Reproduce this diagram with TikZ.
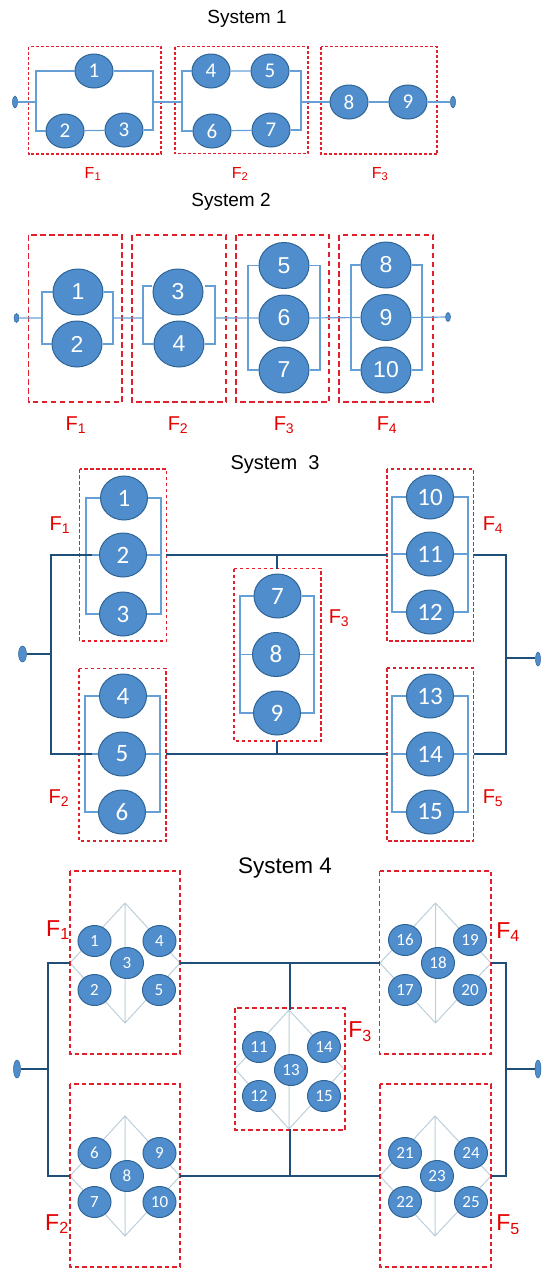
\documentclass[tikz,border=0pt]{standalone}
\usepackage{fontspec}
\setmainfont{Liberation Sans}
\newfontfamily\numfont{Carlito}
\usetikzlibrary{shapes.geometric}
\definecolor{nodefill}{HTML}{4F8DCC}
\definecolor{nodeedge}{HTML}{2F6596}
\definecolor{linelight}{HTML}{659FD6}
\definecolor{linedark}{HTML}{1F4E79}
\definecolor{diamondline}{HTML}{BCCFDB}
\definecolor{boxred}{HTML}{E2202C}
\tikzset{
  x=1pt,y=-1pt,
  blob/.style={ellipse,draw=nodeedge,line width=1pt,fill=nodefill,text=white,inner sep=0pt,font=\numfont},
  blobA/.style={blob,minimum width=38pt,minimum height=34pt,font=\numfont\fontsize{21}{21}\selectfont},
  blobB/.style={blob,minimum width=50pt,minimum height=46pt,font=\fontsize{23}{23}\selectfont},
  blobC/.style={blob,minimum width=47pt,minimum height=44pt,font=\numfont\fontsize{25}{25}\selectfont},
  blobD/.style={blob,minimum width=33pt,minimum height=31pt,font=\numfont\fontsize{17}{17}\selectfont},
  term/.style={ellipse,draw=nodeedge,line width=.5pt,fill=nodefill,inner sep=0pt},
  lite/.style={draw=linelight,line width=1.2pt},
  dark/.style={draw=linedark,line width=2pt},
  diam/.style={draw=diamondline,line width=1pt},
  boxA/.style={draw=boxred,line width=1.2pt,dash pattern=on 3pt off 2pt},
  boxB/.style={draw=boxred,line width=1.5pt,dash pattern=on 5.5pt off 3.5pt},
  boxC/.style={draw=boxred,line width=1.2pt,dash pattern=on 3.5pt off 2.5pt},
  boxD/.style={draw=boxred,line width=1.3pt,dash pattern=on 4.5pt off 3pt},
  ttl/.style={inner sep=0pt,text=black},
  flab/.style={inner sep=0pt,text=red!90!black},
}
\begin{document}
\begin{tikzpicture}
\useasboundingbox (0,0) rectangle (550,1280);
% ---------- System 1
\node[ttl,font=\fontsize{19}{19}\selectfont] (t1) at (247,19) {System 1};
\draw[boxA] (28.5,46.5) rectangle (161,154);
\draw[boxA] (175,46.5) rectangle (308,153.5);
\draw[boxA] (321,46.5) rectangle (437,154);
\node[blobA] (a1) at (94,71) {1};
\node[blobA] (a2) at (65,131) {2};
\node[blobA] (a3) at (124,130) {3};
\node[blobA] (a4) at (211,71) {4};
\node[blobA] (a5) at (270,71) {5};
\node[blobA] (a6) at (212,131) {6};
\node[blobA] (a7) at (271,130) {7};
\node[blobA] (a8) at (349,102) {8};
\node[blobA] (a9) at (408,102) {9};
\node[term,minimum width=5pt,minimum height=12pt] (at) at (15,102) {};
\node[term,minimum width=5pt,minimum height=12pt] (au) at (453,102) {};
\coordinate (aL) at (36,102);
\coordinate (aR) at (153,102);
\coordinate (bL) at (182,102);
\coordinate (bR) at (301,102);
\draw[lite] (at) -- (aL) (aR) -- (bL) (bR) -- (a8) (a8) -- (a9) (a9) -- (au);
\draw[lite] (a1.west) -| (aL) |- (a2.west);
\draw[lite] (a1.east) -| (aR) |- (a3.east);
\draw[lite] (a2) -- (a3) (a4) -- (a5) (a6) -- (a7);
\draw[lite] (a4.west) -| (bL) |- (a6.west);
\draw[lite] (a5.east) -| (bR) |- (a7.east);
\node[flab,font=\fontsize{16}{16}\selectfont] (af1) at (93,174) {F\textsubscript{1}};
\node[flab,font=\fontsize{16}{16}\selectfont] (af2) at (240,174) {F\textsubscript{2}};
\node[flab,font=\fontsize{16}{16}\selectfont] (af3) at (380,174) {F\textsubscript{3}};
% ---------- System 2
\node[ttl,font=\fontsize{19}{19}\selectfont] (t2) at (231,202) {System 2};
\draw[boxB] (28.5,235) rectangle (122,402);
\draw[boxB] (132,235) rectangle (226,402);
\draw[boxB] (236,235) rectangle (329,402);
\draw[boxB] (339,235) rectangle (433,402);
\node[blobB] (b1) at (78,292) {1};
\node[blobB] (b2) at (77,344) {2};
\node[blobB] (b3) at (178,292) {3};
\node[blobB] (b4) at (179,344) {4};
\node[blobB] (b5) at (284,265.5) {5};
\node[blobB] (b6) at (284,318) {6};
\node[blobB] (b7) at (284,370) {7};
\node[blobB] (b8) at (386,265) {8};
\node[blobB] (b9) at (386,317.5) {9};
\node[blobB] (b10) at (386,370) {10};
\node[term,minimum width=5pt,minimum height=9pt] (bt) at (16.5,318) {};
\node[term,minimum width=5pt,minimum height=9pt] (bu) at (448,317) {};
\coordinate (c1L) at (42,318);
\coordinate (c1R) at (113,318);
\coordinate (c2L) at (143,318);
\coordinate (c2R) at (215,318);
\coordinate (c3L) at (248,318);
\coordinate (c3R) at (320,318);
\coordinate (c4L) at (351,318);
\coordinate (c4R) at (422,318);
\draw[lite] (bt) -- (c1L) (c1R) -- (c2L) (c2R) -- (b6.west) (b6.east) -- (b9.west) (b9.east) -- (bu);
\draw[lite] (b1.west) -| (c1L) |- (b2.west);
\draw[lite] (b1.east) -| (c1R) |- (b2.east);
\draw[lite] (b3.west) ++(-1,-6) coordinate (b3w) -| (c2L) |- (b4.west);
\draw[lite] (b3.east) ++(1,-6) coordinate (b3e) -| (c2R) |- (b4.east);
\draw[lite] (b5.west) -| (c3L) |- (b7.west);
\draw[lite] (b5.east) -| (c3R) |- (b7.east);
\draw[lite] (b8.west) -| (c4L) |- (b10.west);
\draw[lite] (b8.east) -| (c4R) |- (b10.east);
\node[flab,font=\fontsize{20}{20}\selectfont] (bf1) at (76,425) {F\textsubscript{1}};
\node[flab,font=\fontsize{20}{20}\selectfont] (bf2) at (178,425) {F\textsubscript{2}};
\node[flab,font=\fontsize{20}{20}\selectfont] (bf3) at (284,425) {F\textsubscript{3}};
\node[flab,font=\fontsize{20}{20}\selectfont] (bf4) at (387,425) {F\textsubscript{4}};
% ---------- System 3
\node[ttl,font=\fontsize{20}{20}\selectfont] (t3) at (275,465) {System\ \ 3};
\draw[boxC] (79.5,469) rectangle (166.5,641);
\draw[boxC] (79,668.5) rectangle (166,841);
\draw[boxC] (234,568.5) rectangle (321,741);
\draw[boxC] (387,469) rectangle (473.5,641);
\draw[boxC] (387,668) rectangle (473.5,841);
\node[blobC] (c1) at (124,498) {1};
\node[blobC] (c2) at (123,555) {2};
\node[blobC] (c3) at (123,614) {3};
\node[blobC] (c4) at (123,696) {4};
\node[blobC] (c5) at (122,754) {5};
\node[blobC] (c6) at (122,812) {6};
\node[blobC] (c7) at (277.5,596) {7};
\node[blobC] (c8) at (276,654.5) {8};
\node[blobC] (c9) at (277,713) {9};
\node[blobC] (c10) at (430,497) {10};
\node[blobC] (c11) at (430,554) {11};
\node[blobC] (c12) at (430,612) {12};
\node[blobC] (c13) at (430,696) {13};
\node[blobC] (c14) at (430,754) {14};
\node[blobC] (c15) at (430,812) {15};
\coordinate (d1L) at (86,555);
\coordinate (d1R) at (161,555);
\coordinate (d2L) at (85,754);
\coordinate (d2R) at (160,754);
\coordinate (d3L) at (240,654.5);
\coordinate (d3R) at (314,654.5);
\coordinate (d4L) at (392,554);
\coordinate (d4R) at (468,554);
\coordinate (d5L) at (392,754);
\coordinate (d5R) at (468,754);
\draw[lite] (c1.west) -| (d1L) |- (c3.west);
\draw[lite] (c1.east) -| (d1R) |- (c3.east);
\draw[lite] (d1L) -- (c2.west) (c2.east) -- (d1R);
\draw[lite] (c4.west) -| (d2L) |- (c6.west);
\draw[lite] (c4.east) -| (d2R) |- (c6.east);
\draw[lite] (d2L) -- (c5.west) (c5.east) -- (d2R);
\draw[lite] (c7.west) -| (d3L) |- (c9.west);
\draw[lite] (c7.east) -| (d3R) |- (c9.east);
\draw[lite] (d3L) -- (c8.west) (c8.east) -- (d3R);
\draw[lite] (c10.west) -| (d4L) |- (c12.west);
\draw[lite] (c10.east) -| (d4R) |- (c12.east);
\draw[lite] (d4L) -- (c11.west) (c11.east) -- (d4R);
\draw[lite] (c13.west) -| (d5L) |- (c15.west);
\draw[lite] (c13.east) -| (d5R) |- (c15.east);
\draw[lite] (d5L) -- (c14.west) (c14.east) -- (d5R);
\node[term,minimum width=8pt,minimum height=16pt] (ct) at (22.5,654) {};
\node[term,minimum width=5pt,minimum height=14pt] (cu) at (538,659) {};
\coordinate (e1) at (92,555);
\coordinate (e2) at (166,555);
\coordinate (e3) at (92,754);
\coordinate (e4) at (166,754);
\coordinate (e5) at (277,555);
\coordinate (e6) at (277,568.5);
\coordinate (e7) at (277,741);
\coordinate (e8) at (277,754);
\coordinate (e9) at (387,555);
\coordinate (e10) at (473.5,555);
\coordinate (e11) at (387,754);
\coordinate (e12) at (473.5,754);
\coordinate (eL) at (50.5,654);
\coordinate (eR) at (505.5,658);
\draw[dark] (e1) -| (eL) |- (e3);
\draw[dark] (e10) -| (eR) |- (e12);
\draw[dark] (ct) -- (eL) (eR) -- (cu.west |- eR);
\draw[dark] (e2) -- (e9) (e4) -- (e11) (e5) -- (e6) (e7) -- (e8);
\node[flab,font=\fontsize{20}{20}\selectfont] (cf1) at (60,525) {F\textsubscript{1}};
\node[flab,font=\fontsize{20}{20}\selectfont] (cf2) at (59,798) {F\textsubscript{2}};
\node[flab,font=\fontsize{20}{20}\selectfont] (cf3) at (339,618) {F\textsubscript{3}};
\node[flab,font=\fontsize{20}{20}\selectfont] (cf4) at (493,525) {F\textsubscript{4}};
\node[flab,font=\fontsize{20}{20}\selectfont] (cf5) at (493,798) {F\textsubscript{5}};
% ---------- System 4
\node[ttl,font=\fontsize{22.5}{22.5}\selectfont] (t4) at (285,868) {System 4};
% diamonds
\coordinate (g1T) at (125,903); \coordinate (g1L) at (70,963); \coordinate (g1R) at (180,963); \coordinate (g1B) at (125,1023);
\coordinate (g2T) at (125,1116); \coordinate (g2L) at (70,1176); \coordinate (g2R) at (180,1176); \coordinate (g2B) at (125,1236);
\coordinate (g3T) at (289,1010); \coordinate (g3L) at (235,1069); \coordinate (g3R) at (344,1069); \coordinate (g3B) at (289,1129);
\coordinate (g4T) at (435.5,903); \coordinate (g4L) at (380,963); \coordinate (g4R) at (491,963); \coordinate (g4B) at (435.5,1023);
\coordinate (g5T) at (435,1116); \coordinate (g5L) at (380,1176); \coordinate (g5R) at (491,1176); \coordinate (g5B) at (435,1236);
\draw[diam] (g1L) -- (g1T) -- (g1R) -- (g1B) -- cycle (g1T) -- (g1B);
\draw[diam] (g2L) -- (g2T) -- (g2R) -- (g2B) -- cycle (g2T) -- (g2B);
\draw[diam] (g3L) -- (g3T) -- (g3R) -- (g3B) -- cycle (g3T) -- (g3B);
\draw[diam] (g4L) -- (g4T) -- (g4R) -- (g4B) -- cycle (g4T) -- (g4B);
\draw[diam] (g5L) -- (g5T) -- (g5R) -- (g5B) -- cycle (g5T) -- (g5B);
\draw[boxD] (70,871) rectangle (180,1054);
\draw[boxD] (70,1084) rectangle (180,1267);
\draw[boxD] (235,1008) rectangle (345,1130);
\draw[boxD] (379.5,871) rectangle (491,1054);
\draw[boxD] (380,1084) rectangle (491,1267);
\node[blobD] (d1) at (94.5,941) {1};
\node[blobD] (d2) at (94.5,990) {2};
\node[blobD] (d3) at (127,963) {3};
\node[blobD] (d4) at (159.5,941) {4};
\node[blobD] (d5) at (159,990) {5};
\node[blobD] (d6) at (94.5,1153) {6};
\node[blobD] (d7) at (94.5,1202) {7};
\node[blobD] (d8) at (127,1176) {8};
\node[blobD] (d9) at (159.5,1153) {9};
\node[blobD] (d10) at (159.5,1202) {10};
\node[blobD] (d11) at (259,1047) {11};
\node[blobD] (d12) at (259,1096) {12};
\node[blobD] (d13) at (291,1070) {13};
\node[blobD] (d14) at (324,1047) {14};
\node[blobD] (d15) at (324,1096) {15};
\node[blobD] (d16) at (405,940) {16};
\node[blobD] (d17) at (405,990) {17};
\node[blobD] (d18) at (438,963) {18};
\node[blobD] (d19) at (470,940) {19};
\node[blobD] (d20) at (470,990) {20};
\node[blobD] (d21) at (405,1153) {21};
\node[blobD] (d22) at (405,1202) {22};
\node[blobD] (d23) at (437,1176) {23};
\node[blobD] (d24) at (471,1153) {24};
\node[blobD] (d25) at (471,1202) {25};
\node[term,minimum width=7pt,minimum height=18pt] (dt) at (17,1069) {};
\node[term,minimum width=6pt,minimum height=18pt] (du) at (538,1069) {};
\coordinate (hL) at (47.5,1069);
\coordinate (hR) at (505.5,1069);
\coordinate (hT) at (290,963);
\coordinate (hB) at (290,1176);
\draw[dark] (g1L) -| (hL) |- (g2L);
\draw[dark] (g4R) -| (hR) |- (g5R);
\draw[dark] (dt) -- (hL) (hR) -- (du);
\draw[dark] (g1R) -- (g4L) (g2R) -- (g5L);
\draw[dark] (hT) -- (hT |- g3T) (hB) -- (hB |- g3B);
\node[flab,font=\fontsize{23}{23}\selectfont] (df1) at (58,930) {F\textsubscript{1}};
\node[flab,font=\fontsize{23}{23}\selectfont] (df2) at (57,1224) {F\textsubscript{2}};
\node[flab,font=\fontsize{23}{23}\selectfont] (df3) at (360,1032) {F\textsubscript{3}};
\node[flab,font=\fontsize{23}{23}\selectfont] (df4) at (508,932) {F\textsubscript{4}};
\node[flab,font=\fontsize{23}{23}\selectfont] (df5) at (508,1225) {F\textsubscript{5}};
\end{tikzpicture}
\end{document}
